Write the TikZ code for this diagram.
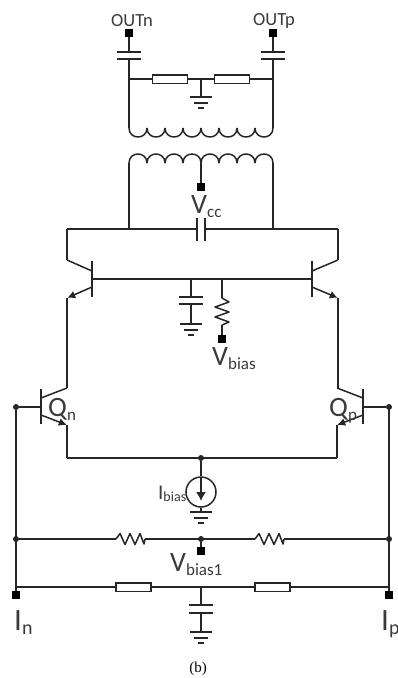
\documentclass[tikz,border=0pt]{standalone}
\usepackage{fontspec}
\setmainfont{Carlito}
\newfontfamily\capfont{Liberation Serif}
\usetikzlibrary{arrows.meta}
\definecolor{wirec}{HTML}{262626}
\definecolor{textc}{HTML}{3A3A3A}
\tikzset{
  wire/.style={draw=wirec,line width=1.5pt,line join=round},
  dot/.style={circle,fill=wirec,inner sep=0pt,minimum size=6pt},
  term/.style={rectangle,fill=black,inner sep=0pt,minimum size=8pt},
  junction/.style={inner sep=0pt,minimum size=0pt},
  res/.style={rectangle,draw=wirec,line width=1.5pt,fill=white,inner sep=0pt,minimum width=35pt,minimum height=8.5pt},
  lab/.style={inner sep=0pt,text=textc},
  emit/.style={wire,-{Latex[length=8pt,width=8pt]}},
  gnd/.pic={
    \draw[wire] (-11,0) -- (11,0);
    \draw[wire] (-7,6) -- (7,6);
    \draw[wire,line width=1.7pt] (-3,11) -- (3,11);
  },
  zigh/.pic={
    \draw[wire] (0,0) -- (4,-5.5) -- (9,5.5) -- (14,-5.5) -- (19,5.5) -- (24,-5.5) -- (28,5) -- (29,0);
  },
  zigv/.pic={
    \draw[wire] (0,0) -- (7,4) -- (-7,9) -- (7,14) -- (-7,19) -- (7,24) -- (0,27);
  },
  coildown/.pic={
    \foreach \i in {0,...,7}{
      \draw[wire] (\i*18,0) .. controls (\i*18,12) and (\i*18+18,12) .. (\i*18+18,0);
    }
  },
  coilup/.pic={
    \foreach \i in {0,...,7}{
      \draw[wire] (\i*18,0) .. controls (\i*18,-12) and (\i*18+18,-12) .. (\i*18+18,0);
    }
  }
}
\newcommand{\bigsmall}[2]{{\fontsize{28}{28}\selectfont #1}{\fontsize{17}{17}\selectfont\raisebox{-4pt}{#2}}}
\begin{document}
\begin{tikzpicture}[x=1pt,y=-1pt]
\useasboundingbox (0,0) rectangle (398,678);
% named points
\node[term] (outn) at (129,33) {};
\node[term] (outp) at (273,33) {};
\node[junction] (cnt) at (129,52) {};
\node[junction] (cnb) at (129,59) {};
\node[junction] (cpt) at (273,52) {};
\node[junction] (cpb) at (273,59) {};
\node[junction] (rl) at (129,79) {};
\node[junction] (rr) at (273,79) {};
\node[junction] (rc) at (201,79) {};
\node[junction] (g1) at (201,97) {};
\node[junction] (csl) at (129,128) {};
\node[junction] (csr) at (273,128) {};
\node[junction] (cpl) at (129,163) {};
\node[junction] (cpr) at (273,163) {};
\node[junction] (cpm) at (201,163) {};
\node[term] (vcc) at (201,187) {};
\node[junction] (bl) at (67,229) {};
\node[junction] (br) at (338,229) {};
\node[junction] (b1) at (129,229) {};
\node[junction] (b2) at (273,229) {};
\node[junction] (c1) at (197,229) {};
\node[junction] (c2) at (205,229) {};
% upper transistors
\node[junction] (t1c) at (67,260) {};
\node[junction] (t1cb) at (92,271) {};
\node[junction] (t1b) at (92,279) {};
\node[junction] (t1eb) at (92,287) {};
\node[junction] (t1e) at (67,298) {};
\node[junction] (t2c) at (338,260) {};
\node[junction] (t2cb) at (312,271) {};
\node[junction] (t2b) at (312,279) {};
\node[junction] (t2eb) at (312,287) {};
\node[junction] (t2e) at (338,298) {};
\node[junction] (m1) at (191,279) {};
\node[junction] (m2) at (222,279) {};
\node[junction] (mc1) at (191,297) {};
\node[junction] (mc2) at (191,304) {};
\node[junction] (g2) at (191,324) {};
\node[junction] (mr1) at (222,298) {};
\node[junction] (mr2) at (222,325) {};
\node[term] (vb) at (222,339) {};
% lower transistors
\node[junction] (q1c) at (67,388) {};
\node[junction] (q1cb) at (41,398) {};
\node[junction] (q1b) at (41,407) {};
\node[junction] (q1eb) at (41,415) {};
\node[junction] (q1e) at (67,425) {};
\node[junction] (q2c) at (337,388) {};
\node[junction] (q2cb) at (363,398) {};
\node[junction] (q2b) at (363,407) {};
\node[junction] (q2eb) at (363,415) {};
\node[junction] (q2e) at (337,425) {};
\node[junction] (tl) at (67,458) {};
\node[junction] (tr) at (337,458) {};
\node[dot] (tm) at (201,458) {};
\node[circle,draw=wirec,line width=1.5pt,inner sep=0pt,minimum size=30pt] (is) at (201,492) {};
\node[junction] (g3) at (201,512) {};
\node[dot] (bnl) at (16,407) {};
\node[dot] (bnr) at (389,407) {};
\node[dot] (ml) at (16,539) {};
\node[dot] (mr) at (389,539) {};
\node[dot] (mm) at (201,539) {};
\node[term] (vb1) at (201,551) {};
\node[junction] (z1a) at (116,539) {};
\node[junction] (z1b) at (145,539) {};
\node[junction] (z2a) at (255,539) {};
\node[junction] (z2b) at (284,539) {};
\node[junction] (ll) at (16,587) {};
\node[junction] (lr) at (389,587) {};
\node[junction] (lm) at (201,587) {};
\node[term] (in) at (16,595) {};
\node[term] (ip) at (389,595) {};
\node[junction] (lc1) at (201,605) {};
\node[junction] (lc2) at (201,613) {};
\node[junction] (g4) at (201,632) {};
% output stage
\draw[wire] (outn) -- (cnt);
\draw[wire] (outp) -- (cpt);
\draw[wire] (129,52) ++(-12,0) -- ++(24,0);
\draw[wire] (129,59) ++(-12,0) -- ++(24,0);
\draw[wire] (273,52) ++(-12,0) -- ++(24,0);
\draw[wire] (273,59) ++(-12,0) -- ++(24,0);
\draw[wire] (cnb) -- (csl);
\draw[wire] (cpb) -- (csr);
\draw[wire] (rl) -- (rr);
\draw[wire] (rc) -- (g1);
\pic at (g1) {gnd};
\node[res] at (170,79) {};
\node[res] at (232,79) {};
\pic at (csl) {coildown};
\pic at (cpl) {coilup};
\draw[wire] (cpm) -- (vcc);
\draw[wire] (cpl) -- (b1);
\draw[wire] (cpr) -- (b2);
% collector bus
\draw[wire] (t1c) -- (bl) -- (c1);
\draw[wire] (t2c) -- (br) -- (c2);
\draw[wire] (197,218) -- (197,241);
\draw[wire] (205,218) -- (205,241);
% upper pair
\draw[wire] (t1c) -- (t1cb);
\draw[wire] (t2c) -- (t2cb);
\draw[wire] (92,261) -- (92,297);
\draw[wire] (312,261) -- (312,297);
\draw[wire] (t1b) -- (t2b);
\draw[emit] (t1eb) -- (t1e);
\draw[emit] (t2eb) -- (t2e);
\draw[wire] (t1e) -- (q1c);
\draw[wire] (t2e) -- (338,388) -- (q2c);
% mid branch
\draw[wire] (m1) -- (mc1);
\draw[wire] (179,297) -- (203,297);
\draw[wire] (179,304) -- (203,304);
\draw[wire] (mc2) -- (g2);
\pic at (g2) {gnd};
\draw[wire] (m2) -- (mr1);
\pic at (mr1) {zigv};
\draw[wire] (mr2) -- (vb);
% lower pair
\draw[wire] (q1c) -- (q1cb);
\draw[wire] (q2c) -- (q2cb);
\draw[wire] (41,389) -- (41,424);
\draw[wire] (363,389) -- (363,424);
\draw[wire] (bnl) -- (q1b);
\draw[wire] (bnr) -- (q2b);
\draw[emit] (q1eb) -- (q1e);
\draw[emit] (q2eb) -- (q2e);
\draw[wire] (q1e) -- (tl) -- (tr) -- (q2e);
% current source
\draw[wire] (tm) -- (is);
\draw[wire,-{Latex[length=9pt,width=10pt]}] (201,477) -- (201,501);
\draw[wire] (is) -- (g3);
\pic at (g3) {gnd};
% bias networks
\draw[wire] (bnl) -- (ll) -- (in);
\draw[wire] (bnr) -- (lr) -- (ip);
\draw[wire] (ml) -- (z1a);
\pic at (z1a) {zigh};
\draw[wire] (z1b) -- (z2a);
\pic at (z2a) {zigh};
\draw[wire] (z2b) -- (mr);
\draw[wire] (mm) -- (vb1);
\draw[wire] (ll) -- (lr);
\node[res] at (133.5,587) {};
\node[res] at (272.5,587) {};
\draw[wire] (lm) -- (lc1);
\draw[wire] (189,605) -- (213,605);
\draw[wire] (189,613) -- (213,613);
\draw[wire] (lc2) -- (g4);
\pic at (g4) {gnd};
% labels
\node[lab,font=\fontsize{18.5}{18.5}\selectfont] (tn) at (132,21) {OUTn};
\node[lab,font=\fontsize{18.5}{18.5}\selectfont] (tp) at (274,21) {OUTp};
\node[lab,anchor=base west] (tvcc) at (191,213) {\bigsmall{V}{cc}};
\node[lab,anchor=base west] (tvb) at (212,365) {\bigsmall{V}{bias}};
\node[lab,anchor=base west] (tvb1) at (170,571) {\bigsmall{V}{bias1}};
\node[lab,anchor=base west] (tqn) at (48,416) {\bigsmall{Q}{n}};
\node[lab,anchor=base west] (tqp) at (329,416) {\bigsmall{Q}{p}};
\node[lab,anchor=base west] (tib) at (158,499) {{\fontsize{21}{21}\selectfont I}{\fontsize{14}{14}\selectfont\raisebox{-2.5pt}{bias}}};
\node[lab,anchor=base west] (tin) at (14,630) {{\fontsize{31}{31}\selectfont I}{\fontsize{20}{20}\selectfont\raisebox{-4pt}{n}}};
\node[lab,anchor=base west] (tip) at (381,630) {{\fontsize{31}{31}\selectfont I}{\fontsize{20}{20}\selectfont\raisebox{-4pt}{p}}};
\node[lab,font=\capfont\fontsize{15}{15}\selectfont,text=black] (cap) at (198,669) {(b)};
\end{tikzpicture}
\end{document}
